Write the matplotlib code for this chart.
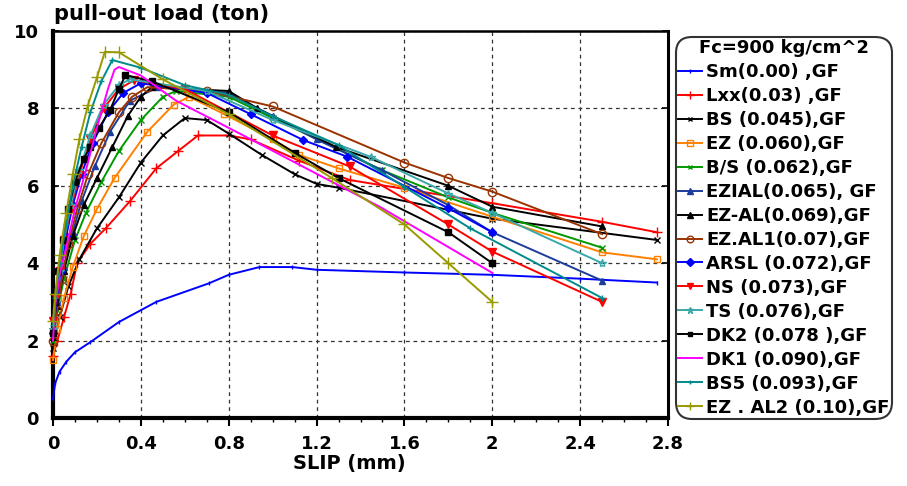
import matplotlib
matplotlib.use("Agg")
import matplotlib.pyplot as plt
from matplotlib.ticker import MultipleLocator

plt.rcParams["font.family"] = ["DejaVu Sans"]
plt.rcParams["font.weight"] = "bold"

# ---- pull-out load (ton) versus slip (mm) for each fibre type ----
sm_x = [0, 0.01, 0.03, 0.06, 0.1, 0.17, 0.3, 0.47, 0.71, 0.8, 0.94, 1.09, 1.2, 1.6, 2.0, 2.4, 2.75]
sm_y = [0.5, 0.9, 1.2, 1.45, 1.7, 1.96, 2.48, 3.0, 3.48, 3.7, 3.9, 3.9, 3.83, 3.76, 3.7, 3.6, 3.5]

lxx_x = [0, 0.02, 0.05, 0.08, 0.11, 0.17, 0.24, 0.35, 0.47, 0.57, 0.66, 0.8, 0.9, 1.12, 1.35, 2.0, 2.5, 2.75]
lxx_y = [1.6, 2.0, 2.6, 3.2, 4.0, 4.5, 4.9, 5.6, 6.45, 6.9, 7.3, 7.3, 7.2, 6.65, 6.15, 5.55, 5.07, 4.8]

bs_x = [0, 0.03, 0.07, 0.12, 0.2, 0.3, 0.4, 0.5, 0.6, 0.7, 0.8, 0.95, 1.1, 1.2, 1.3, 2.0, 2.75]
bs_y = [1.8, 2.6, 3.4, 4.1, 4.9, 5.7, 6.6, 7.3, 7.75, 7.7, 7.35, 6.8, 6.3, 6.05, 5.95, 5.15, 4.6]

ez_x = [0, 0.02, 0.05, 0.09, 0.14, 0.2, 0.28, 0.43, 0.55, 0.62, 0.78, 1.0, 1.12, 1.3, 1.6, 2.0, 2.5, 2.75]
ez_y = [1.5, 2.3, 3.1, 3.9, 4.7, 5.4, 6.2, 7.4, 8.1, 8.3, 7.85, 7.2, 6.8, 6.45, 5.95, 5.2, 4.28, 4.1]

bslash_x = [0, 0.02, 0.05, 0.1, 0.15, 0.22, 0.3, 0.4, 0.5, 0.56, 0.8, 1.0, 1.5, 1.8, 2.0, 2.5]
bslash_y = [2.0, 2.8, 3.6, 4.6, 5.3, 6.1, 6.9, 7.7, 8.3, 8.45, 8.3, 7.75, 6.4, 5.7, 5.3, 4.4]

ezial_x = [0, 0.02, 0.05, 0.09, 0.13, 0.19, 0.26, 0.35, 0.48, 0.8, 1.0, 1.2, 1.5, 1.8, 2.0, 2.5]
ezial_y = [2.2, 3.0, 3.9, 4.8, 5.6, 6.5, 7.4, 8.2, 8.55, 8.4, 7.8, 7.2, 6.4, 5.5, 4.8, 3.55]

ezal_x = [0, 0.02, 0.05, 0.09, 0.14, 0.2, 0.27, 0.34, 0.4, 0.45, 0.8, 0.93, 1.29, 1.8, 2.0, 2.5]
ezal_y = [2.1, 2.9, 3.8, 4.7, 5.5, 6.2, 7.0, 7.8, 8.3, 8.55, 8.45, 8.0, 7.0, 6.0, 5.46, 4.95]

ezal1_x = [0, 0.02, 0.04, 0.07, 0.11, 0.16, 0.22, 0.3, 0.36, 0.43, 0.7, 1.0, 1.6, 1.8, 2.0, 2.5]
ezal1_y = [2.0, 2.8, 3.6, 4.5, 5.4, 6.3, 7.1, 7.9, 8.3, 8.55, 8.45, 8.05, 6.6, 6.2, 5.85, 4.75]

arsl_x = [0, 0.015, 0.035, 0.06, 0.09, 0.13, 0.18, 0.25, 0.32, 0.4, 0.7, 0.9, 1.14, 1.34, 1.8, 2.0]
arsl_y = [2.2, 3.0, 3.8, 4.7, 5.5, 6.3, 7.1, 7.9, 8.4, 8.65, 8.4, 7.85, 7.18, 6.75, 5.42, 4.8]

ns_x = [0, 0.015, 0.03, 0.05, 0.08, 0.12, 0.17, 0.23, 0.3, 0.37, 0.6, 1.0, 1.35, 1.8, 2.0, 2.5]
ns_y = [2.5, 3.1, 3.8, 4.6, 5.4, 6.3, 7.2, 8.0, 8.5, 8.73, 8.5, 7.3, 6.5, 5.0, 4.3, 3.0]

ts_x = [0, 0.012, 0.03, 0.05, 0.08, 0.12, 0.17, 0.23, 0.3, 0.35, 0.7, 1.0, 1.45, 1.8, 2.0, 2.5]
ts_y = [2.3, 3.0, 3.8, 4.6, 5.5, 6.4, 7.3, 8.1, 8.6, 8.75, 8.45, 7.7, 6.74, 5.8, 5.3, 4.0]

dk2_x = [0, 0.01, 0.025, 0.045, 0.07, 0.1, 0.14, 0.17, 0.21, 0.26, 0.3, 0.33, 0.45, 0.8, 1.1, 1.3, 1.8, 2.0]
dk2_y = [2.2, 3.0, 3.8, 4.6, 5.4, 6.1, 6.7, 7.0, 7.5, 7.96, 8.5, 8.86, 8.7, 7.9, 6.85, 6.2, 4.8, 4.0]

dk1_x = [0, 0.01, 0.03, 0.06, 0.1, 0.15, 0.2, 0.25, 0.28, 0.3, 0.4, 0.56, 0.85, 1.49, 2.0]
dk1_y = [2.0, 2.9, 3.7, 4.4, 5.4, 6.4, 7.5, 8.5, 9.0, 9.07, 8.85, 8.2, 7.35, 5.45, 3.75]

bs5_x = [0, 0.01, 0.03, 0.06, 0.09, 0.13, 0.17, 0.22, 0.27, 0.4, 0.6, 0.8, 1.0, 1.3, 1.6, 1.9, 2.5]
bs5_y = [2.4, 3.1, 4.0, 5.0, 6.0, 7.0, 7.9, 8.7, 9.25, 9.05, 8.6, 8.35, 7.8, 7.05, 5.97, 4.9, 3.1]

ezal2_x = [0, 0.01, 0.03, 0.06, 0.09, 0.12, 0.16, 0.2, 0.236, 0.3, 0.5, 0.8, 1.27, 1.6, 1.8, 2.0]
ezal2_y = [2.5, 3.2, 4.2, 5.3, 6.3, 7.2, 8.1, 8.8, 9.46, 9.45, 8.75, 7.85, 6.2, 5.0, 4.0, 3.0]

labels = [
    "Sm(0.00) ,GF", "Lxx(0.03) ,GF", "BS (0.045),GF", "EZ (0.060),GF",
    "B/S (0.062),GF", "EZIAL(0.065), GF", "EZ-AL(0.069),GF", "EZ.AL1(0.07),GF",
    "ARSL (0.072),GF", "NS (0.073),GF", "TS (0.076),GF", "DK2 (0.078 ),GF",
    "DK1 (0.090),GF", "BS5 (0.093),GF", "EZ . AL2 (0.10),GF",
]
x_ticks = [0, 0.4, 0.8, 1.2, 1.6, 2, 2.4, 2.8]
x_tick_labels = ["0", "0.4", "0.8", "1.2", "1.6", "2", "2.4", "2.8"]
y_ticks = [0, 2, 4, 6, 8, 10]

series = [
    (sm_x, sm_y, dict(color="#0000ff", marker="|", ms=3, mfc="#0000ff")),
    (lxx_x, lxx_y, dict(color="#ff0000", marker="+", ms=7, mfc="#ff0000")),
    (bs_x, bs_y, dict(color="#000000", marker="x", ms=4, mfc="#000000")),
    (ez_x, ez_y, dict(color="#ff8000", marker="s", ms=5, mfc="none")),
    (bslash_x, bslash_y, dict(color="#009900", marker="x", ms=4, mfc="#009900")),
    (ezial_x, ezial_y, dict(color="#1c3c9c", marker="^", ms=5, mfc="#1c3c9c")),
    (ezal_x, ezal_y, dict(color="#000000", marker="^", ms=5, mfc="#000000")),
    (ezal1_x, ezal1_y, dict(color="#993300", marker="o", ms=6, mfc="none")),
    (arsl_x, arsl_y, dict(color="#0000ff", marker="D", ms=4.5, mfc="#0000ff")),
    (ns_x, ns_y, dict(color="#ff0000", marker="v", ms=5.5, mfc="#ff0000")),
    (ts_x, ts_y, dict(color="#3aa8a8", marker="*", ms=6, mfc="none")),
    (dk2_x, dk2_y, dict(color="#000000", marker="s", ms=4, mfc="#000000")),
    (dk1_x, dk1_y, dict(color="#ff00ff", marker="None", ms=0, mfc="#ff00ff")),
    (bs5_x, bs5_y, dict(color="#008b8b", marker="+", ms=4, mfc="#008b8b")),
    (ezal2_x, ezal2_y, dict(color="#999900", marker="+", ms=8, mfc="#999900")),
]

fig = plt.figure(figsize=(9.07, 4.86), dpi=100)
ax = fig.add_axes([53 / 907, 68 / 486, 615 / 907, 387 / 486])

handles = []
for (xs, ys, st), lab in zip(series, labels):
    h, = ax.plot(xs, ys, color=st["color"], lw=1.4, marker=st["marker"],
                 ms=st["ms"], mfc=st["mfc"], mec=st["color"], mew=1.0,
                 label=lab, clip_on=False, zorder=3)
    handles.append(h)

ax.set_xlim(0, 2.8)
ax.set_ylim(0, 10)
ax.set_xticks(x_ticks)
ax.set_xticklabels(x_tick_labels)
ax.set_yticks(y_ticks)
ax.xaxis.set_minor_locator(MultipleLocator(0.1))
ax.tick_params(axis="x", which="major", direction="out", length=6, width=1.5,
               labelsize=13, pad=6)
ax.tick_params(axis="x", which="minor", direction="out", length=3, width=1.0)
ax.tick_params(axis="y", which="major", direction="in", length=4, width=1.2,
               labelsize=13, pad=10, right=True)
for lab in ax.get_xticklabels() + ax.get_yticklabels():
    lab.set_fontweight("bold")

ax.grid(True, which="major", color="#333333", lw=0.9, linestyle=(0, (3, 3)))
ax.set_axisbelow(True)
for side, w in (("left", 3.0), ("bottom", 3.0), ("top", 1.8), ("right", 2.2)):
    ax.spines[side].set_linewidth(w)

fig.text(54 / 907, 1 - 14 / 486, "pull-out load (ton)", fontsize=15,
         fontweight="bold", ha="left", va="center")
fig.text(349 / 907, 1 - 463 / 486, "SLIP (mm)", fontsize=14,
         fontweight="bold", ha="center", va="center")

leg = fig.legend(handles=handles, loc="upper left",
                 bbox_to_anchor=(676 / 907, 1 - 37 / 486), borderaxespad=0,
                 title="Fc=900 kg/cm^2", fontsize=13, title_fontsize=13,
                 labelspacing=0.33, handlelength=1.3, handletextpad=0.25,
                 borderpad=0.12, frameon=True, fancybox=True, markerscale=0.8)
leg.get_title().set_fontweight("bold")
for t in leg.get_texts():
    t.set_fontweight("bold")
frame = leg.get_frame()
frame.set_edgecolor("black")
frame.set_linewidth(1.5)
frame.set_boxstyle("round,pad=0,rounding_size=0.9")

fig.savefig("out.png", dpi=100)
